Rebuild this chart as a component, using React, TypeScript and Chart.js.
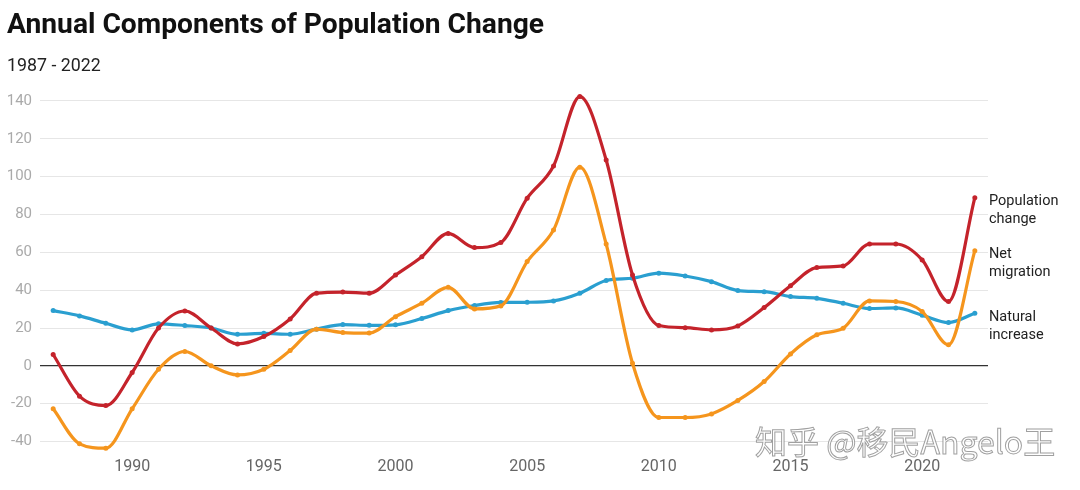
import React, { useEffect, useRef } from "react";
import { Chart, registerables } from "chart.js";
Chart.register(...registerables);

const years = [
  1987, 1988, 1989, 1990, 1991, 1992, 1993, 1994, 1995, 1996, 1997, 1998,
  1999, 2000, 2001, 2002, 2003, 2004, 2005, 2006, 2007, 2008, 2009, 2010,
  2011, 2012, 2013, 2014, 2015, 2016, 2017, 2018, 2019, 2020, 2021, 2022,
];
const populationChange = [
  6, -16, -21, -3.5, 20, 29, 20, 11.6, 15.5, 24.8, 38.4, 39,
  38.4, 48, 57.7, 70, 62.5, 65.2, 88.6, 105.6, 142.3, 108.8, 48, 21.3,
  20.2, 19, 21.1, 30.8, 42.3, 52, 52.8, 64.4, 64.4, 56, 34, 88.9,
];
const netMigration = [
  -22.7, -41.2, -43.5, -22.7, -1.8, 7.6, 0, -4.8, -1.8, 8.1, 19.4, 17.6,
  17.3, 26, 33.1, 41.5, 30.1, 31.7, 55.1, 71.8, 105, 64.4, 1.4, -27.3,
  -27.3, -25.4, -18.3, -8.3, 6.3, 16.4, 19.9, 34.3, 34, 28.7, 11.1, 60.9,
];
const naturalIncrease = [
  29.2, 26.4, 22.5, 19, 22.2, 21.3, 20, 16.7, 17.2, 16.7, 19.4, 21.8,
  21.4, 21.7, 25, 29.2, 31.9, 33.5, 33.6, 34.3, 38.4, 45.1, 46.3, 49,
  47.5, 44.5, 39.8, 39.2, 36.6, 35.7, 33.1, 30.3, 30.6, 26.8, 22.9, 27.8,
];
const yTicks = [-40, -20, 0, 20, 40, 60, 80, 100, 120, 140];
const xTicks = [1990, 1995, 2000, 2005, 2010, 2015, 2020];
const seriesLabels = [
  ["Population", "change"],
  ["Net", "migration"],
  ["Natural", "increase"],
];
const seriesColors = ["#c4232b", "#f5951d", "#2a9fd0"];

const endLabels = {
  id: "endLabels",
  afterDatasetsDraw(chart: any) {
    const ctx = chart.ctx;
    ctx.save();
    ctx.font = '14.5px Roboto, "Noto Sans", sans-serif';
    ctx.fillStyle = "#222";
    ctx.textAlign = "left";
    ctx.textBaseline = "middle";
    chart.data.datasets.forEach((ds: any, i: number) => {
      const meta = chart.getDatasetMeta(i);
      const pt = meta.data[meta.data.length - 1];
      const lines = seriesLabels[i];
      lines.forEach((t: string, j: number) => {
        ctx.fillText(t, chart.chartArea.right + 1, pt.y + 4 + j * 18);
      });
    });
    ctx.restore();
  },
};

export default function App() {
  const ref = useRef<HTMLCanvasElement | null>(null);
  useEffect(() => {
    document.body.style.margin = "0";
    const mk = (values: number[], i: number, order: number) => ({
      label: seriesLabels[i].join(" "),
      data: years.map((y, k) => ({ x: y, y: values[k] })),
      borderColor: seriesColors[i],
      backgroundColor: seriesColors[i],
      borderWidth: 3.2,
      pointRadius: 2.5,
      pointHoverRadius: 2.5,
      pointBorderWidth: 0,
      cubicInterpolationMode: "monotone" as const,
      clip: false as any,
      order,
    });
    const chart = new Chart(ref.current as HTMLCanvasElement, {
      type: "line",
      data: {
        datasets: [
          mk(populationChange, 0, 0),
          mk(netMigration, 1, 1),
          mk(naturalIncrease, 2, 2),
        ],
      },
      plugins: [endLabels],
      options: {
        animation: false,
        responsive: false,
        layout: { padding: { left: 0, right: 92, top: 91.5, bottom: 0 } },
        plugins: { legend: { display: false }, tooltip: { enabled: false } },
        scales: {
          x: {
            type: "linear",
            min: 1986.5,
            max: 2022.5,
            afterBuildTicks: (s: any) => {
              s.ticks = xTicks.map((v) => ({ value: v }));
            },
            afterFit: (s: any) => {
              s.height = 39;
            },
            grid: { display: false, drawTicks: false },
            border: { display: false },
            ticks: {
              padding: 6,
              color: "#666",
              font: { family: "Roboto", size: 16 },
              callback: (v: any) => String(v),
              maxRotation: 0,
            },
          },
          y: {
            type: "linear",
            min: -45,
            max: 145,
            afterBuildTicks: (s: any) => {
              s.ticks = yTicks.map((v) => ({ value: v }));
            },
            afterFit: (s: any) => {
              s.width = 40;
            },
            grid: {
              drawTicks: false,
              color: (c: any) => (c.tick && c.tick.value === 0 ? "#333" : "#e6e6e6"),
              lineWidth: (c: any) => (c.tick && c.tick.value === 0 ? 1.3 : 1),
            },
            border: { display: false },
            ticks: {
              padding: 8,
              color: "#aaa",
              font: { family: "Roboto", size: 15 },
              callback: (v: any) => String(v),
            },
          },
        },
      },
    });
    return () => chart.destroy();
  }, []);

  return (
    <div style={{ position: "absolute", left: 0, top: 0, width: 1080, height: 490, background: "#fff", overflow: "hidden" }}>
      <canvas ref={ref} width={1080} height={490} style={{ position: "absolute", left: 0, top: 0, width: 1080, height: 490 }} />
      <div style={{ position: "absolute", left: 7, top: 8, fontFamily: "Roboto", fontWeight: 700, fontSize: 28.2, lineHeight: "32px", color: "#111", whiteSpace: "nowrap" }}>
        Annual Components of Population Change
      </div>
      <div style={{ position: "absolute", left: 7, top: 54, fontFamily: "Roboto", fontSize: 17.8, lineHeight: "22px", color: "#222", whiteSpace: "nowrap" }}>
        1987 - 2022
      </div>
      <div style={{ position: "absolute", left: 755, top: 420, fontFamily: '"Noto Sans CJK SC", sans-serif', fontSize: 32, lineHeight: "40px", color: "rgba(255,255,255,0.85)", WebkitTextStroke: "1px rgba(120,120,120,0.7)", whiteSpace: "nowrap" }}>
        知乎 @移民Angelo王
      </div>
    </div>
  );
}
